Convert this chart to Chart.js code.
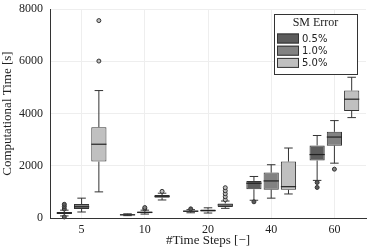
<!DOCTYPE html>
<html>
<head>
<meta charset="utf-8">
<script src="https://cdn.jsdelivr.net/npm/chart.js@4.4.0/dist/chart.umd.min.js"></script>
<style>
  html, body { margin: 0; padding: 0; background: #fff; }
  #wrap { width: 374px; height: 249px; }
</style>
</head>
<body>
<div id="wrap"><canvas id="chart" width="374" height="249"></canvas></div>
<script>
// time steps on the x axis
const steps = ["5", "10", "20", "40", "60"];
const yTicks = [0, 2000, 4000, 6000, 8000];

// SM error 0.5%
const lo05  = [80, 90, 200, 680, 1440];
const q105  = [150, 105, 235, 1100, 2200];
const med05 = [190, 120, 260, 1330, 2430];
const q305  = [230, 140, 290, 1420, 2780];
const hi05  = [300, 160, 320, 1590, 3160];
const out05 = [[40, 345, 440, 525], [], [350], [620], [1360, 1170]];

// SM error 1.0%
const lo10  = [230, 150, 190, 760, 2100];
const q110  = [345, 185, 250, 1080, 2770];
const med10 = [430, 215, 285, 1420, 3100];
const q310  = [535, 245, 325, 1740, 3300];
const hi10  = [760, 300, 390, 2040, 3730];
const out10 = [[], [350, 400], [], [], [1870]];

// SM error 5.0%
const lo50  = [1000, 690, 370, 920, 3845];
const q150  = [2160, 780, 420, 1080, 4100];
const med50 = [2825, 830, 500, 1200, 4550];
const q350  = [3480, 880, 560, 2160, 4880];
const hi50  = [4880, 950, 650, 2680, 5390];
const out50 = [[6010, 7560], [1020], [700, 815, 930, 1045, 1160], [], []];

const serif = "'Liberation Serif', 'DejaVu Serif', serif";

function boxSet(label, color, q1, q3, lo, med, hi, outs) {
  return {
    label: label,
    data: q1.map((v, i) => [v, q3[i]]),
    backgroundColor: color,
    borderColor: "#333",
    borderWidth: 1,
    borderSkipped: false,
    lo: lo, med: med, hi: hi, outs: outs
  };
}

// whiskers, medians, outliers, and the legend box
const boxPlugin = {
  id: "boxExtras",
  afterDatasetsDraw(c) {
    const ctx = c.ctx, y = c.scales.y;
    ctx.save();

    // legend first, so the marks stay on top of its edge
    const lx = 274, ly = 14, lw = 83, lh = 60;
    ctx.fillStyle = "#fff";
    ctx.fillRect(lx, ly, lw, lh);
    ctx.strokeStyle = "#333";
    ctx.lineWidth = 1;
    ctx.strokeRect(lx + 0.5, ly + 0.5, lw, lh);
    ctx.fillStyle = "#222";
    ctx.font = "12px " + serif;
    ctx.textAlign = "center";
    ctx.textBaseline = "middle";
    ctx.fillText("SM Error", lx + lw / 2, ly + 9);
    ctx.font = "10px 'DejaVu Sans', sans-serif";
    ctx.textAlign = "left";
    c.data.datasets.forEach((ds, i) => {
      const ry = 38.5 + i * 12.2;
      ctx.fillStyle = ds.backgroundColor;
      ctx.fillRect(277, ry - 5, 22, 10);
      ctx.strokeStyle = "#333";
      ctx.strokeRect(277.5, ry - 4.5, 21, 9);
      ctx.fillStyle = "#222";
      ctx.fillText(ds.label, 302, ry + 0.5);
    });

    c.data.datasets.forEach((ds, i) => {
      c.getDatasetMeta(i).data.forEach((el, j) => {
        const x = el.x, w = el.width, cap = w * 0.28;
        const pq1 = y.getPixelForValue(ds.data[j][0]);
        const pq3 = y.getPixelForValue(ds.data[j][1]);
        const plo = y.getPixelForValue(ds.lo[j]);
        const phi = y.getPixelForValue(ds.hi[j]);
        const pm = y.getPixelForValue(ds.med[j]);
        ctx.strokeStyle = "#333";
        ctx.lineWidth = 1;
        ctx.beginPath();
        ctx.moveTo(x, pq3); ctx.lineTo(x, phi);
        ctx.moveTo(x - cap, phi); ctx.lineTo(x + cap, phi);
        ctx.moveTo(x, pq1); ctx.lineTo(x, plo);
        ctx.moveTo(x - cap, plo); ctx.lineTo(x + cap, plo);
        ctx.stroke();
        ctx.strokeStyle = "#222";
        ctx.lineWidth = 1.2;
        ctx.beginPath();
        ctx.moveTo(x - w / 2, pm); ctx.lineTo(x + w / 2, pm);
        ctx.stroke();
        ds.outs[j].forEach(v => {
          ctx.beginPath();
          ctx.arc(x, y.getPixelForValue(v), 2, 0, Math.PI * 2);
          ctx.fillStyle = ds.backgroundColor;
          ctx.fill();
          ctx.strokeStyle = "#333";
          ctx.lineWidth = 1;
          ctx.stroke();
        });
      });
    });
    ctx.restore();
  }
};

new Chart(document.getElementById("chart"), {
  type: "bar",
  data: {
    labels: steps,
    datasets: [
      boxSet("0.5%", "#5c5c5c", q105, q305, lo05, med05, hi05, out05),
      boxSet("1.0%", "#828282", q110, q310, lo10, med10, hi10, out10),
      boxSet("5.0%", "#c0c0c0", q150, q350, lo50, med50, hi50, out50)
    ]
  },
  options: {
    responsive: false,
    animation: false,
    categoryPercentage: 0.82,
    barPercentage: 0.88,
    layout: { padding: { top: 0, right: 8, left: 0, bottom: 0 } },
    plugins: { legend: { display: false }, tooltip: { enabled: false } },
    scales: {
      x: {
        grid: { offset: false, color: "#eeeeee", drawTicks: false },
        border: { color: "#333", width: 1 },
        ticks: { color: "#222", padding: 5, font: { family: serif, size: 12 } },
        title: { display: true, text: "#Time Steps [\u2212]", color: "#222",
                 font: { family: serif, size: 13 }, padding: { top: 0, bottom: 1 } },
        afterFit: s => { s.height = 31; }
      },
      y: {
        min: 0, max: 8000,
        afterBuildTicks: s => { s.ticks = yTicks.map(v => ({ value: v })); },
        grid: { color: "#eeeeee", drawTicks: false },
        border: { color: "#333", width: 1 },
        ticks: { color: "#222", padding: 7, font: { family: serif, size: 12, lineHeight: 0.35 },
                 callback: v => String(v) },
        title: { display: true, text: "Computational Time [s]", color: "#222",
                 font: { family: serif, size: 13 }, padding: { top: 0, bottom: 0 } },
        afterFit: s => { s.width = 50; }
      }
    }
  },
  plugins: [boxPlugin]
});
</script>
</body>
</html>
